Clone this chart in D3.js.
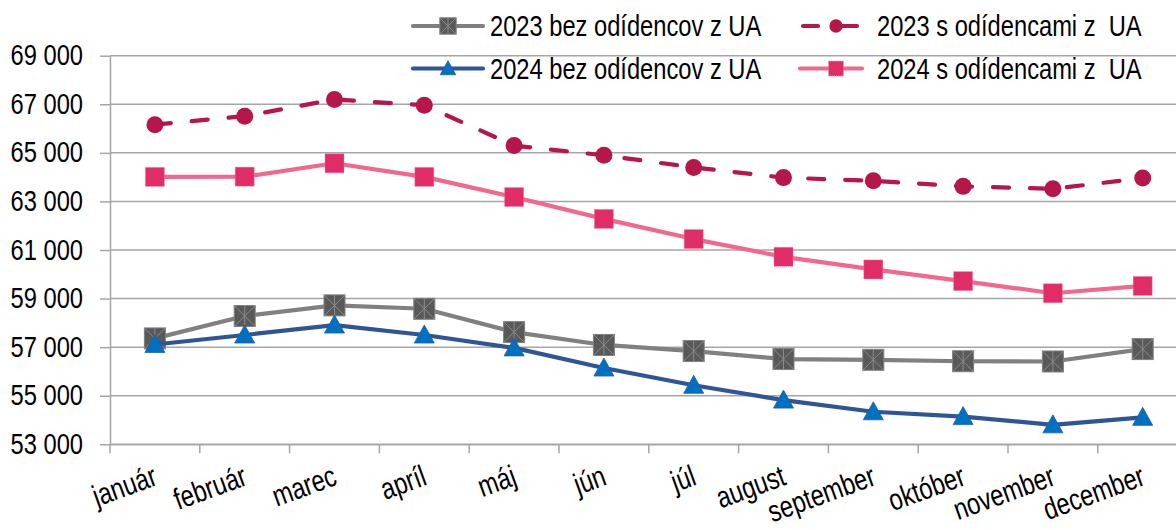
<!DOCTYPE html>
<html>
<head>
<meta charset="utf-8">
<script src="https://cdn.jsdelivr.net/npm/d3@7"></script>
<style>
  html, body { margin: 0; padding: 0; background: #ffffff; }
  svg { display: block; }
  text { font-family: 'Liberation Sans', Arial, sans-serif; fill: #000; white-space: pre; }
</style>
</head>
<body>
<svg id="chart" width="1176" height="530"></svg>
<script>
const months = ["január","február","marec","apríl","máj","jún","júl","august","september","október","november","december"];
const yTicks = [53000,55000,57000,59000,61000,63000,65000,67000,69000];

const s2023bez = [57360,58280,58720,58580,57620,57090,56840,56510,56480,56420,56410,56920];
const s2023s   = [66160,66510,67200,66960,65300,64900,64400,63980,63850,63620,63520,63960];
const s2024bez = [57110,57500,57910,57500,56970,56140,55430,54820,54340,54140,53800,54110];
const s2024s   = [64010,64020,64570,64010,63180,62280,61450,60720,60200,59720,59220,59520];

const seriesNames = ["2023 bez odídencov z UA","2023 s odídencami z  UA","2024 bez odídencov z UA","2024 s odídencami z  UA"];

const series = [
  {name: seriesNames[0], values: s2023bez, line: "#808080", marker: "xsquare", dash: null},
  {name: seriesNames[1], values: s2023s,   line: "#B5174B", marker: "circle",  dash: "16,21"},
  {name: seriesNames[2], values: s2024bez, line: "#2F5597", marker: "triangle",dash: null},
  {name: seriesNames[3], values: s2024s,   line: "#F2678C", marker: "square",  dash: null}
];

const svg = d3.select("#chart");
const left = 110, step = 89.8;
const x = d3.scaleBand().domain(months).range([left, left + step*12]).padding(0);
const y = d3.scaleLinear().domain([53000, 69000]).range([444.3, 55.7]);
const fmt = d3.formatLocale({decimal: ",", thousands: " ", grouping: [3], currency: ["", ""]}).format(",");

const gridColor = "#A6A6A6";
const FS = 30;      // font size
const SX = 0.79;    // horizontal condensing (narrow face)

// gridlines
svg.append("g").selectAll("line").data(yTicks).join("line")
  .attr("x1", left).attr("x2", left + step*12)
  .attr("y1", d => y(d)).attr("y2", d => y(d))
  .attr("stroke", gridColor).attr("stroke-width", 1.5);

// y axis
const yAxis = svg.append("g").attr("transform", `translate(${left},0)`)
  .call(d3.axisLeft(y).tickValues(yTicks).tickFormat(fmt).tickSize(10).tickPadding(17).tickSizeOuter(0));
yAxis.attr("font-family", null).attr("font-size", null);
yAxis.select(".domain").attr("stroke", gridColor).attr("stroke-width", 1.5);
yAxis.selectAll(".tick line").attr("stroke", gridColor).attr("stroke-width", 1.5);
yAxis.selectAll(".tick text").attr("font-size", FS).attr("fill", "#000")
  .attr("x", -27 / SX).attr("dy", "0.3em")
  .attr("transform", `scale(${SX},1)`);

// x axis
const xAxis = svg.append("g").attr("transform", `translate(0,${y(53000)})`)
  .call(d3.axisBottom(x).tickSize(0).tickSizeOuter(0));
xAxis.attr("font-family", null).attr("font-size", null);
xAxis.select(".domain").attr("stroke", gridColor).attr("stroke-width", 1.5);
xAxis.selectAll(".tick text")
  .attr("font-size", FS).attr("fill", "#000")
  .attr("text-anchor", "end")
  .attr("dy", 0).attr("y", 0)
  .attr("transform", `translate(4,40) rotate(-20) scale(${SX},1)`);
// boundary ticks
svg.append("g").selectAll("line").data(d3.range(13)).join("line")
  .attr("x1", i => left + i*x.step()).attr("x2", i => left + i*x.step())
  .attr("y1", y(53000)).attr("y2", y(53000) + 9)
  .attr("stroke", gridColor).attr("stroke-width", 1.5);

const cx = d => x(d) + x.bandwidth()/2;

function drawMarker(g, type, px, py, k) {
  k = k || 1;
  if (type === "circle") {
    g.append("circle").attr("cx", px).attr("cy", py).attr("r", 8.5*k).attr("fill", "#B5174B");
  } else if (type === "square") {
    const h = 9.5*k;
    g.append("rect").attr("x", px-h).attr("y", py-h).attr("width", 2*h).attr("height", 2*h)
      .attr("fill", "#E02D68").attr("stroke", "#EE7FA0").attr("stroke-width", 0.8).attr("stroke-dasharray", "1,1");
  } else if (type === "triangle") {
    g.append("path").attr("d", `M${px},${py-10*k} L${px+10*k},${py+8*k} L${px-10*k},${py+8*k} Z`)
      .attr("fill", "#0070C0").attr("stroke", "#1F5FA8").attr("stroke-width", 0.8);
  } else if (type === "xsquare") {
    const h = 10.5*k;
    g.append("rect").attr("x", px-h).attr("y", py-h).attr("width", 2*h).attr("height", 2*h)
      .attr("fill", "#595959").attr("stroke", "#808080").attr("stroke-width", 1);
    g.append("path").attr("d", `M${px-h},${py-h} L${px+h},${py+h} M${px+h},${py-h} L${px-h},${py+h} M${px},${py-h} L${px},${py+h}`)
      .attr("stroke", "#8C8C8C").attr("stroke-width", 1).attr("fill", "none");
  }
}

const line = d3.line().x((d, i) => cx(months[i])).y(d => y(d));

series.forEach(s => {
  const g = svg.append("g");
  g.append("path").attr("d", line(s.values)).attr("fill", "none")
    .attr("stroke", s.line).attr("stroke-width", 4.2)
    .attr("stroke-linecap", s.dash ? "round" : "butt")
    .attr("stroke-linejoin", "round")
    .attr("stroke-dasharray", s.dash);
  s.values.forEach((v, i) => drawMarker(g, s.marker, cx(months[i]), y(v)));
});

// legend
const legendPos = [
  {lx: 413, ly: 26, tx: 490}, {lx: 800, ly: 26, tx: 877},
  {lx: 413, ly: 68.5, tx: 490}, {lx: 800, ly: 68.5, tx: 877}
];
series.forEach((s, i) => {
  const p = legendPos[i];
  const g = svg.append("g");
  if (s.dash) {
    g.append("line").attr("x1", p.lx + 3).attr("x2", p.lx + 18).attr("y1", p.ly).attr("y2", p.ly)
      .attr("stroke", s.line).attr("stroke-width", 4.2).attr("stroke-linecap", "round");
    g.append("line").attr("x1", p.lx + 36).attr("x2", p.lx + 57).attr("y1", p.ly).attr("y2", p.ly)
      .attr("stroke", s.line).attr("stroke-width", 4.2).attr("stroke-linecap", "round");
  } else {
    const len = i % 2 === 0 ? 70 : 62;
    g.append("line").attr("x1", p.lx).attr("x2", p.lx + len).attr("y1", p.ly).attr("y2", p.ly)
      .attr("stroke", s.line).attr("stroke-width", 4.2).attr("stroke-linecap", "round");
  }
  drawMarker(g, s.marker, p.lx + (i % 2 === 0 ? 35 : 36), p.ly, 0.78);
  g.append("text").attr("x", p.tx / SX).attr("y", p.ly + 10.5)
    .attr("transform", `scale(${SX},1)`)
    .attr("xml:space", "preserve")
    .attr("font-size", FS).text(s.name);
});
</script>
</body>
</html>
